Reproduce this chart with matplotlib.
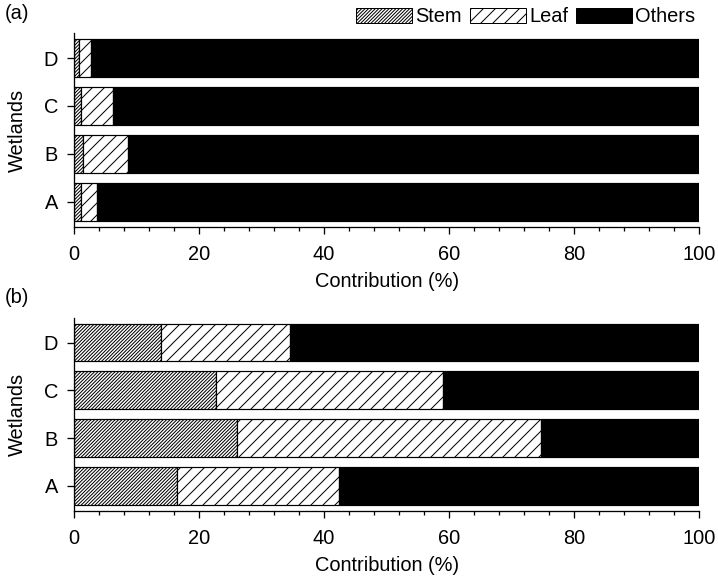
import matplotlib.pyplot as plt
import numpy as np
from matplotlib.patches import Patch
from matplotlib.ticker import MultipleLocator

plt.rcParams['font.family'] = ['Liberation Sans', 'DejaVu Sans']
plt.rcParams['hatch.linewidth'] = 1.0

wetlands = ['A', 'B', 'C', 'D']
# panel (a): stem, leaf, others (%)
stem_a = [1.1, 1.4, 1.1, 0.85]
leaf_a = [2.6, 7.3, 5.2, 1.95]
# panel (b)
stem_b = [16.4, 26.0, 22.7, 13.9]
leaf_b = [26.0, 48.7, 36.3, 20.7]

fig = plt.figure(figsize=(718 / 72, 582 / 72), dpi=72)
ax_a = fig.add_axes([0.103, 0.610, 0.871, 0.333])
ax_b = fig.add_axes([0.103, 0.122, 0.871, 0.332])

fs = 20
stem_hatch = '///////'
leaf_hatch = '//'
for ax, stem, leaf, tag in [(ax_a, stem_a, leaf_a, '(a)'), (ax_b, stem_b, leaf_b, '(b)')]:
    y = np.arange(len(wetlands))
    stem = np.array(stem)
    leaf = np.array(leaf)
    others = 100 - stem - leaf
    ax.barh(y, stem, height=0.79, color='white', edgecolor='black', hatch=stem_hatch, lw=1.2)
    ax.barh(y, leaf, left=stem, height=0.79, color='white', edgecolor='black', hatch=leaf_hatch, lw=1.2)
    ax.barh(y, others, left=stem + leaf, height=0.79, color='black', edgecolor='black', lw=1.2)
    ax.set_xlim(0, 100)
    ax.set_ylim(-0.53, 3.52)
    ax.set_yticks(y)
    ax.set_yticklabels(wetlands, fontsize=fs)
    ax.xaxis.set_major_locator(MultipleLocator(20))
    ax.xaxis.set_minor_locator(MultipleLocator(4))
    ax.tick_params(axis='x', labelsize=fs, direction='out', length=7, width=1.3, pad=11)
    ax.tick_params(axis='x', which='minor', direction='out', length=4, width=1.3)
    ax.tick_params(axis='y', direction='out', length=7, width=1.3, pad=9)
    ax.spines['top'].set_visible(False)
    ax.spines['right'].set_visible(False)
    ax.spines['left'].set_linewidth(1.3)
    ax.spines['bottom'].set_linewidth(1.3)
    ax.set_xlabel('Contribution (%)', fontsize=fs, labelpad=8)
    ax.set_ylabel('Wetlands', fontsize=fs, labelpad=17)
    fig.text(0.006, ax.get_position().y1 + 0.018, tag, fontsize=fs, ha='left', va='bottom')

handles = [Patch(facecolor='white', edgecolor='black', hatch=stem_hatch, label='Stem'),
           Patch(facecolor='white', edgecolor='black', hatch=leaf_hatch, label='Leaf'),
           Patch(facecolor='black', edgecolor='black', label='Others')]
fig.legend(handles=handles, loc='upper right', bbox_to_anchor=(0.985, 1.008), ncol=3,
           frameon=False, fontsize=fs, handlelength=2.8, handleheight=0.75,
           handletextpad=0.15, columnspacing=0.4, borderpad=0.1)

fig.savefig('out.png', dpi=72)
